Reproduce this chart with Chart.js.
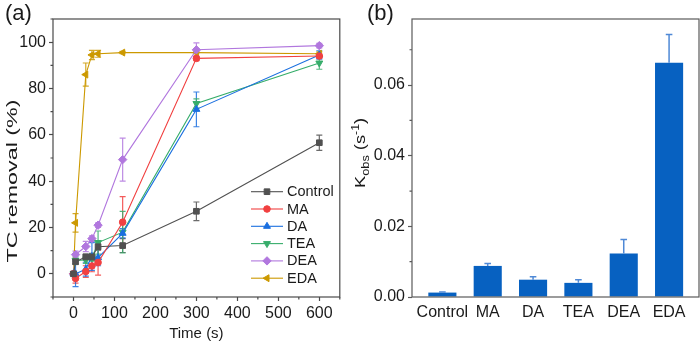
<!DOCTYPE html>
<html>
<head>
<meta charset="utf-8">
<script src="https://cdn.jsdelivr.net/npm/chart.js@4.4.1/dist/chart.umd.min.js"></script>
<style>
  html, body { margin: 0; padding: 0; background: #fff; }
  #wrap { position: relative; width: 700px; height: 343px; overflow: hidden; }
  canvas { position: absolute; top: 0; }
  #removalChart { left: 0; }
  #kobsChart { left: 345px; }
</style>
</head>
<body>
<div id="wrap">
  <canvas id="removalChart" width="345" height="343"></canvas>
  <canvas id="kobsChart" width="355" height="343"></canvas>
</div>
<script>
Chart.defaults.font.family = "'Liberation Sans', Arial, sans-serif";
Chart.defaults.color = '#1a1a1a';

// ---- (a) TC removal over time ----
const times = [0, 5, 30, 45, 60, 120, 300, 600];
const seriesNames = ['Control', 'MA', 'DA', 'TEA', 'DEA', 'EDA'];

const controlVals = [0, 5.2, 7.3, 7.3, 11.7, 12.2, 27.0, 56.6];
const controlErr  = [0.5, 1.0, 1.2, 1.5, 1.5, 3.0, 4.0, 3.3];
const maVals      = [0, -2.0, 1.0, 3.4, 4.9, 22.3, 93.0, 94.0];
const maErr       = [0.5, 2.0, 2.5, 2.5, 5.5, 11.0, 1.0, 1.0];
const daVals      = [0, 0.0, 2.0, 7.5, 7.0, 17.5, 71.0, 94.5];
const daErr       = [0.5, 5.5, 3.0, 6.0, 3.5, 2.0, 7.5, 1.8];
const teaVals     = [0, 5.8, 6.0, 7.0, 13.5, 18.0, 73.5, 91.0];
const teaErr      = [0.5, 1.5, 1.5, 1.5, 5.0, 9.0, 2.0, 2.7];
const deaVals     = [0, 8.3, 11.8, 15.2, 21.0, 49.3, 96.7, 98.5];
const deaErr      = [0.5, 1.5, 2.2, 1.2, 1.0, 9.3, 3.0, 1.0];
const edaVals     = [0, 22.0, 86.0, 94.5, 95.0, 95.5, 95.5, 95.0];
const edaErr      = [0.5, 4.0, 5.0, 2.0, 1.5, 0.5, 0.5, 0.8];

const xTicksA = [0, 100, 200, 300, 400, 500, 600];
const xMinorA = [-50, 50, 150, 250, 350, 450, 550, 650];
const yTicksA = [0, 20, 40, 60, 80, 100];
const yMinorA = [-10, 10, 30, 50, 70, 90, 110];

// ---- (b) rate constants ----
const amines = ['Control', 'MA', 'DA', 'TEA', 'DEA', 'EDA'];
const kobsVals = [0.00125, 0.0088, 0.0049, 0.0040, 0.0123, 0.0663];
const kobsErr  = [0.0002, 0.0007, 0.0008, 0.0009, 0.0040, 0.0080];
const yTicksB = [0, 0.02, 0.04, 0.06];
const yMinorB = [0.01, 0.03, 0.05, 0.07];

// series styling
const seriesColors = ['#515151', '#F14040', '#1A6FDF', '#37AD6B', '#B177DE', '#CC9900'];
const seriesMarkers = ['rect', 'circle', 'triangle', 'triangle', 'rectRot', 'triangle'];
const markerRotation = [0, 0, 0, 180, 0, -90];
const markerRadius = [4, 3.3, 4, 4, 4.2, 4];

const seriesVals = [controlVals, maVals, daVals, teaVals, deaVals, edaVals];
const seriesErr = [controlErr, maErr, daErr, teaErr, deaErr, edaErr];

function fade(hex, a) {
  const n = parseInt(hex.slice(1), 16);
  return `rgba(${n >> 16}, ${(n >> 8) & 255}, ${n & 255}, ${a})`;
}

// box around plot area plus short minor ticks
const framePlugin = {
  id: 'frame',
  afterDraw(chart, args, opts) {
    const { ctx, chartArea: a, scales } = chart;
    ctx.save();
    ctx.strokeStyle = opts.color;
    ctx.lineWidth = opts.width;
    ctx.strokeRect(a.left, a.top, a.right - a.left, a.bottom - a.top);
    ctx.beginPath();
    (opts.minorX || []).forEach(v => {
      const x = scales.x.getPixelForValue(v);
      ctx.moveTo(x, a.bottom);
      ctx.lineTo(x, a.bottom + opts.minorLen);
    });
    (opts.minorY || []).forEach(v => {
      const y = scales.y.getPixelForValue(v);
      ctx.moveTo(a.left, y);
      ctx.lineTo(a.left - opts.minorLen, y);
    });
    ctx.stroke();
    ctx.restore();
  }
};

function drawErrors(chart, opts) {
  const { ctx, scales: { x, y } } = chart;
  chart.data.datasets.forEach(ds => {
    if (!ds.errors) return;
    ctx.save();
    ctx.strokeStyle = ds.errorColor || ds.borderColor;
    ctx.lineWidth = opts.width;
    ds.data.forEach((p, j) => {
      const px = x.getPixelForValue(p.x);
      const up = y.getPixelForValue(p.y + ds.errors[j]);
      const down = y.getPixelForValue(opts.plusOnly ? p.y : p.y - ds.errors[j]);
      ctx.beginPath();
      ctx.moveTo(px, up);
      ctx.lineTo(px, down);
      ctx.moveTo(px - opts.cap, up);
      ctx.lineTo(px + opts.cap, up);
      if (!opts.plusOnly) {
        ctx.moveTo(px - opts.cap, down);
        ctx.lineTo(px + opts.cap, down);
      }
      ctx.stroke();
    });
    ctx.restore();
  });
}

const errorBarPlugin = {
  id: 'errorBars',
  beforeDatasetsDraw(chart, args, opts) { if (!opts.onTop) drawErrors(chart, opts); },
  afterDatasetsDraw(chart, args, opts) { if (opts.onTop) drawErrors(chart, opts); }
};

// legend box inside the plot area
const insetLegendPlugin = {
  id: 'insetLegend',
  afterDraw(chart, args, opts) {
    if (!opts.show) return;
    const ctx = chart.ctx;
    ctx.save();
    ctx.font = `${opts.fontSize}px ${Chart.defaults.font.family}`;
    ctx.textBaseline = 'middle';
    ctx.textAlign = 'left';
    chart.data.datasets.forEach((ds, i) => {
      const y = opts.y + i * opts.rowGap;
      ctx.strokeStyle = ds.borderColor;
      ctx.lineWidth = ds.borderWidth;
      ctx.beginPath();
      ctx.moveTo(opts.x, y);
      ctx.lineTo(opts.x + opts.lineLen, y);
      ctx.stroke();
      ctx.fillStyle = ds.pointBackgroundColor;
      ctx.strokeStyle = ds.pointBorderColor;
      ctx.lineWidth = 1;
      Chart.helpers.drawPoint(ctx, {
        pointStyle: ds.pointStyle,
        rotation: ds.pointRotation,
        radius: ds.pointRadius,
        borderWidth: 1
      }, opts.x + opts.lineLen / 2, y);
      ctx.fillStyle = opts.color;
      ctx.fillText(ds.label, opts.x + opts.lineLen + opts.gap, y + 0.5);
    });
    ctx.restore();
  }
};

// panel letter and rotated axis titles (with sub/superscripts)
const panelTextPlugin = {
  id: 'panelText',
  afterDraw(chart, args, opts) {
    const ctx = chart.ctx;
    const fam = Chart.defaults.font.family;
    ctx.save();
    ctx.fillStyle = opts.color;
    ctx.font = `${opts.letterSize}px ${fam}`;
    ctx.textBaseline = 'alphabetic';
    ctx.textAlign = 'left';
    ctx.fillText(opts.letter, opts.letterX, opts.letterY);

    const runs = opts.title;
    const widths = runs.map(r => {
      ctx.font = `${r.size}px ${fam}`;
      return ctx.measureText(r.text).width;
    });
    const total = widths.reduce((s, w) => s + w, 0);
    const stretch = opts.titleLength / total;
    ctx.translate(opts.titleX, opts.titleY);
    ctx.rotate(-Math.PI / 2);
    ctx.scale(stretch, 1);
    ctx.textBaseline = 'alphabetic';
    let cx = -total / 2;
    runs.forEach((r, i) => {
      ctx.font = `${r.size}px ${fam}`;
      ctx.fillText(r.text, cx, opts.baseShift + (r.dy || 0));
      cx += widths[i];
    });
    ctx.restore();
  }
};

Chart.register(framePlugin, errorBarPlugin, insetLegendPlugin, panelTextPlugin);

const tickFont = { size: 16 };

new Chart(document.getElementById('removalChart'), {
  type: 'line',
  data: {
    datasets: seriesNames.map((name, i) => ({
      label: name,
      data: times.map((t, j) => ({ x: t, y: seriesVals[i][j] })),
      errors: seriesErr[i],
      errorColor: fade(seriesColors[i], 0.85),
      borderColor: seriesColors[i],
      borderWidth: 1.1,
      backgroundColor: seriesColors[i],
      pointStyle: seriesMarkers[i],
      pointRotation: markerRotation[i],
      pointRadius: markerRadius[i],
      pointBackgroundColor: seriesColors[i],
      pointBorderColor: seriesColors[i],
      pointBorderWidth: 1,
      tension: 0,
      fill: false
    }))
  },
  options: {
    responsive: false,
    animation: false,
    events: [],
    layout: { padding: { top: 19, right: 5, left: 0, bottom: 0 } },
    plugins: {
      legend: { display: false },
      tooltip: { enabled: false },
      frame: { color: '#4a4a4a', width: 1.2, minorLen: 2.5, minorX: xMinorA, minorY: yMinorA },
      errorBars: { width: 1.2, cap: 3, plusOnly: false, onTop: false },
      insetLegend: { show: true, x: 251, y: 191.7, rowGap: 17.3, lineLen: 32, gap: 4, fontSize: 14.5, color: '#1a1a1a' },
      panelText: {
        color: '#1a1a1a', letter: '(a)', letterSize: 22, letterX: 5, letterY: 20,
        title: [{ text: 'TC removal (%)', size: 15 }],
        titleX: 12, titleY: 181, titleLength: 163, baseShift: 5
      }
    },
    scales: {
      x: {
        type: 'linear', min: -50, max: 650,
        afterBuildTicks: s => { s.ticks = xTicksA.map(v => ({ value: v })); },
        afterFit: s => { s.height = 46; },
        border: { display: false },
        grid: { drawOnChartArea: false, drawTicks: true, tickLength: 4, tickColor: '#4a4a4a', tickWidth: 1.2 },
        ticks: { padding: 3, font: tickFont, autoSkip: false, maxRotation: 0, callback: v => String(v) },
        title: { display: true, text: 'Time (s)', font: { size: 15 }, padding: 0 }
      },
      y: {
        type: 'linear', min: -10, max: 110,
        afterBuildTicks: s => { s.ticks = yTicksA.map(v => ({ value: v })); },
        afterFit: s => { s.width = 53; },
        border: { display: false },
        grid: { drawOnChartArea: false, drawTicks: true, tickLength: 4, tickColor: '#4a4a4a', tickWidth: 1.2 },
        ticks: { padding: 3, font: tickFont, autoSkip: false, callback: v => String(v) }
      }
    }
  }
});

new Chart(document.getElementById('kobsChart'), {
  type: 'bar',
  data: {
    datasets: [{
      label: 'kobs',
      data: amines.map((a, i) => ({ x: i, y: kobsVals[i] })),
      errors: kobsErr,
      errorColor: '#4f89d6',
      backgroundColor: '#0761C1',
      borderColor: '#2f76cc',
      borderWidth: 0,
      barPercentage: 0.62,
      categoryPercentage: 1
    }]
  },
  options: {
    responsive: false,
    animation: false,
    events: [],
    layout: { padding: { top: 19, right: 1, left: 0, bottom: 0 } },
    plugins: {
      legend: { display: false },
      tooltip: { enabled: false },
      frame: { color: '#5a5a5a', width: 1.2, minorLen: 2.5, minorY: yMinorB },
      errorBars: { width: 1.5, cap: 3.3, plusOnly: true, onTop: true },
      insetLegend: { show: false },
      panelText: {
        color: '#1a1a1a', letter: '(b)', letterSize: 22, letterX: 22, letterY: 20,
        title: [
          { text: 'K', size: 15 },
          { text: 'obs', size: 10.5, dy: 3.5 },
          { text: ' (s', size: 15 },
          { text: '-1', size: 10, dy: -6 },
          { text: ')', size: 15 }
        ],
        titleX: 15, titleY: 153, titleLength: 70, baseShift: 5
      }
    },
    scales: {
      x: {
        type: 'linear', min: -0.67, max: 5.66, offset: false,
        afterBuildTicks: s => { s.ticks = amines.map((a, i) => ({ value: i })); },
        afterFit: s => { s.height = 46; },
        border: { display: false },
        grid: { display: false, drawTicks: false, offset: false },
        ticks: { padding: 6, font: tickFont, autoSkip: false, maxRotation: 0, callback: v => amines[v] }
      },
      y: {
        type: 'linear', min: 0, max: 0.0787,
        afterBuildTicks: s => { s.ticks = yTicksB.map(v => ({ value: v })); },
        afterFit: s => { s.width = 67; },
        border: { display: false },
        grid: { drawOnChartArea: false, drawTicks: true, tickLength: 4, tickColor: '#5a5a5a', tickWidth: 1.2 },
        ticks: { padding: 3, font: tickFont, autoSkip: false, callback: v => v.toFixed(2) }
      }
    }
  }
});
</script>
</body>
</html>
